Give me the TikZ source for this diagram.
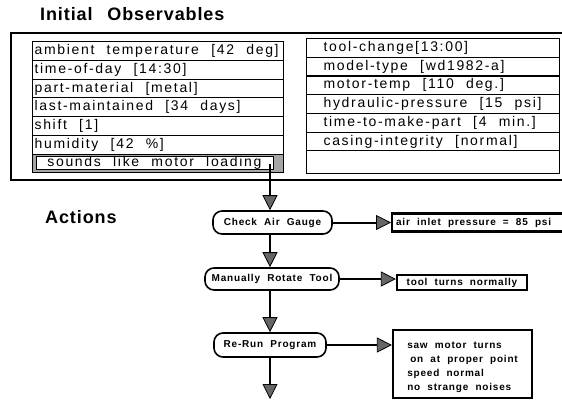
\documentclass[tikz,border=0pt]{standalone}
\usepackage{fontspec}
\setmainfont{Liberation Sans}
\newfontfamily\rowfont[LetterSpace=12,WordSpace=2.2]{Liberation Sans}
\newfontfamily\actfont[LetterSpace=8,WordSpace=2]{Liberation Sans}
\newfontfamily\titlefont[LetterSpace=5,WordSpace=2.5]{Liberation Sans}
\usetikzlibrary{arrows.meta}
\tikzset{
  title/.style={anchor=west, inner sep=0pt, font=\titlefont\bfseries\fontsize{18}{20}\selectfont},
  rowbox/.style={draw, line width=1.2pt, minimum height=18.75pt, inner xsep=2pt, inner ysep=0pt,
    anchor=north west, font=\rowfont\fontsize{14}{16}\selectfont},
  act/.style={draw, rounded corners=9pt, line width=1.6pt, inner sep=0pt,
    font=\actfont\bfseries\fontsize{10}{12}\selectfont},
  res/.style={draw, line width=2.2pt, inner sep=0pt,
    font=\actfont\bfseries\fontsize{10}{14}\selectfont},
  conn/.style={line width=2pt, -{Triangle[width=15pt,length=15pt,fill=black!60,line width=0.8pt]}}
}
\begin{document}
\begin{tikzpicture}[x=1pt,y=-1pt]
\useasboundingbox (0,0) rectangle (562,402);
% titles
\node[title] (t1) at (40,14) {Initial Observables};
\node[title] (t2) at (45,217) {Actions};
% outer frame (runs off the right edge)
\draw[line width=1.3pt] (568,33) -- (11,33) -- (11,180) -- (568,180);
% left observables
\foreach \t [count=\i] in {ambient temperature [42 deg], time-of-day [14:30], part-material [metal],
  last-maintained [34 days], shift [1], humidity [42 \%]}
  \node[rowbox] (l\i) at (32,{41+(\i-1)*18.75}) {\makebox[247pt][l]{\t}};
\node[draw, line width=0.8pt, fill=black!35, minimum width=251pt, minimum height=18.75pt,
  anchor=north west, inner sep=0pt] (l7) at (32,153.5) {};
\node[draw, fill=white, line width=0.8pt, anchor=west, minimum height=13pt,
  inner xsep=0pt, inner ysep=0pt, font=\rowfont\fontsize{14}{16}\selectfont]
  (snd) at ([xshift=4pt]l7.west) {\makebox[237pt][l]{\hspace*{11pt}sounds like motor loading}};
% right observables
\foreach \t [count=\i] in {tool-change[13:00], model-type [wd1982-a], motor-temp [110 deg.],
  hydraulic-pressure [15 psi], time-to-make-part [4 min.], casing-integrity [normal]}
  \node[rowbox] (r\i) at (306,{38+(\i-1)*18.7}) {\makebox[249pt][l]{\hspace*{15pt}\t}};
\node[rowbox, minimum height=22.8pt] (r7) at (306,150.2) {\makebox[249pt]{}};
% actions
\node[act, minimum width=119pt, minimum height=23pt] (cag) at (272.5,222.5) {Check Air Gauge};
\node[act, minimum width=134pt, minimum height=22pt] (mrt) at (272,279) {Manually Rotate Tool};
\node[act, minimum width=112pt, minimum height=24pt] (rrp) at (270,345) {Re-Run Program};
% results
\node[res, anchor=west, minimum height=18pt]
  (air) at (391,222.5) {\makebox[176pt][l]{\hspace*{4pt}air inlet pressure = 85 psi}};
\node[res, minimum width=130pt, minimum height=15pt] (ttn) at (462,282.5) {tool turns normally};
\node[res, minimum width=139pt, minimum height=68pt] (saw) at (462.5,364)
  {\begin{tabular}{@{}l@{}}\rule{0pt}{16pt}saw motor turns\\\hspace*{3pt}on at proper point\\speed normal\\no strange noises\end{tabular}};
% connectors
\coordinate (s0) at (270,164);
\coordinate (fin) at (270,399);
\draw[conn] (s0) -- (s0 |- cag.north);
\draw[conn] (cag.south -| s0) -- (mrt.north -| s0);
\draw[conn] (mrt.south -| s0) -- (rrp.north -| s0);
\draw[conn] (rrp.south -| s0) -- (fin);
\draw[conn] (cag.east) -- (air.west);
\draw[conn] (mrt.east) -- (mrt.east -| ttn.west);
\draw[conn] (rrp.east) -- (rrp.east -| saw.west);
\end{tikzpicture}
\end{document}
